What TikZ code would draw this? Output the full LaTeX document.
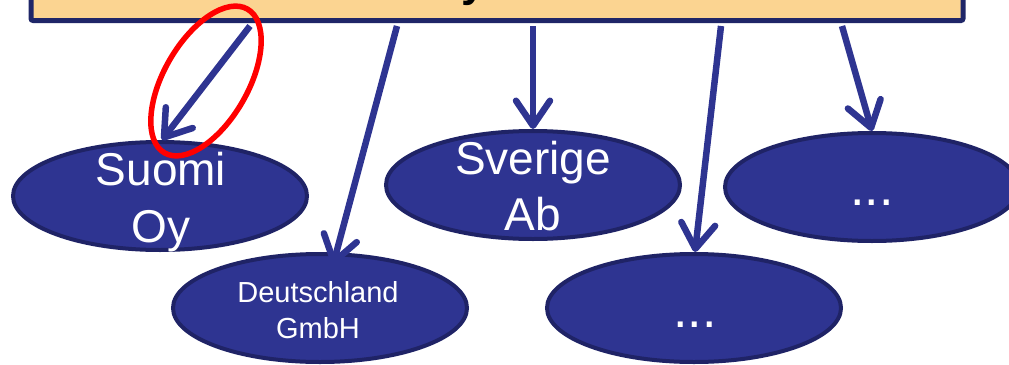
\documentclass[tikz,border=0pt]{standalone}
\usepackage{fontspec}
\setmainfont{Liberation Sans}
\usetikzlibrary{shapes.geometric,arrows.meta,calc}
\definecolor{navy}{HTML}{2E3491}
\definecolor{navyedge}{HTML}{1F2366}
\definecolor{boxfill}{HTML}{FBD491}
\definecolor{boxedge}{HTML}{1F2668}
\tikzset{
  company/.style={ellipse, draw=navyedge, line width=4pt, fill=navy,
    minimum width=294pt, minimum height=108pt, inner sep=0pt},
  bigtxt/.style={text=white, inner sep=0pt, anchor=base, font=\fontsize{46}{54}\selectfont},
  smalltxt/.style={text=white, inner sep=0pt, anchor=base, font=\fontsize{29}{35}\selectfont},
  dotstxt/.style={text=white, inner sep=0pt, anchor=base, font=\fontsize{52}{60}\selectfont},
  arr/.style={draw=navy, line width=6.5pt,
    -{Straight Barb[length=25pt, width=34pt, round]}},
}
\begin{document}
\begin{tikzpicture}[x=1pt, y=-1pt]
\useasboundingbox (0,0) rectangle (1009,364);
% top box
\node[draw=boxedge, fill=boxfill, line width=5pt, rounded corners=2pt,
  minimum width=932pt, minimum height=81pt, inner sep=0pt] (top) at (497,-20) {};
\node[inner sep=0pt, anchor=base west, font=\bfseries\fontsize{44}{50}\selectfont] (toptext) at (461,-3) {y};
% companies
\node[company] (suomi) at (160,196) {};
\node[bigtxt] (suomi1) at (161,185) {Suomi};
\node[bigtxt] (suomi2) at (161,242) {Oy};
\node[company] (sverige) at (533,185) {};
\node[bigtxt] (sverige1) at (533,174) {Sverige};
\node[bigtxt] (sverige2) at (533,230) {Ab};
\node[company] (other1) at (872,187) {};
\node[dotstxt] (other1t) at (872,205) {...};
\node[company] (deutsch) at (320,308) {};
\node[smalltxt] (deutsch1) at (318,302) {Deutschland};
\node[smalltxt] (deutsch2) at (318,338) {GmbH};
\node[company] (other2) at (694,308) {};
\node[dotstxt] (other2t) at (695,327) {...};
% connectors
\coordinate (s1) at (250,26);
\coordinate (s2) at (397,26);
\coordinate (s3) at (533,26);
\coordinate (s4) at (721,26);
\coordinate (s5) at (842,26);
\draw[arr] (s1) -- ([shift={(2,0)}]suomi.north);
\draw[arr] (s2) -- ([shift={(13,13)}]deutsch.north);
\draw[arr] (s3) -- (sverige.north);
\draw[arr] (s4) -- ([shift={(1,0)}]other2.north);
\draw[arr] (s5) -- (other1.north);
% highlight
\node[draw=red, line width=5.5pt, ellipse, minimum width=166pt, minimum height=84pt,
  inner sep=0pt, rotate=60] (hl) at (206,81) {};
\end{tikzpicture}
\end{document}
